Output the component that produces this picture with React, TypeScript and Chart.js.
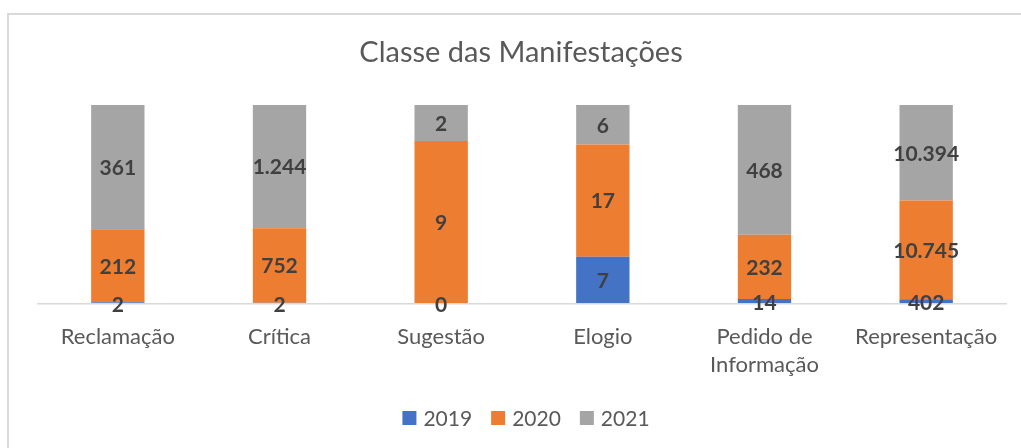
import React, { useEffect, useRef } from "react";
import { Chart, registerables } from "chart.js";

Chart.register(...registerables);

const TITLE = "Classe das Manifestações";
const categories: (string | string[])[] = [
  "Reclamação",
  "Crítica",
  "Sugestão",
  "Elogio",
  ["Pedido de", "Informação"],
  "Representação",
];
const seriesNames = ["2019", "2020", "2021"];
const values2019 = [2, 2, 0, 7, 14, 402];
const values2020 = [212, 752, 9, 17, 232, 10745];
const values2021 = [361, 1244, 2, 6, 468, 10394];
const colors = ["#4472C4", "#ED7D31", "#A5A5A5"];

const FONT = "Lato";
const TEXT = "#595959";

function fmt(n: number): string {
  return String(n).replace(/\B(?=(\d{3})+(?!\d))/g, ".");
}

const rawSeries = [values2019, values2020, values2021];
const totals = categories.map((_, i) => rawSeries.reduce((s, arr) => s + arr[i], 0));
const pctSeries = rawSeries.map((arr) => arr.map((v, i) => (totals[i] ? (v / totals[i]) * 100 : 0)));

const decorPlugin = {
  id: "decor",
  beforeDraw(chart: any) {
    const ctx = chart.ctx;
    ctx.save();
    ctx.fillStyle = "#ffffff";
    ctx.fillRect(0, 0, chart.width, chart.height);
    ctx.strokeStyle = "#d9d9d9";
    ctx.lineWidth = 2;
    ctx.strokeRect(8, 14, 1200, 1000);
    ctx.restore();
  },
  beforeDatasetsDraw(chart: any) {
    const ctx = chart.ctx;
    const { left, right, bottom } = chart.chartArea;
    ctx.save();
    ctx.strokeStyle = "#d9d9d9";
    ctx.lineWidth = 1.5;
    ctx.beginPath();
    ctx.moveTo(left, bottom + 0.75);
    ctx.lineTo(right, bottom + 0.75);
    ctx.stroke();
    ctx.restore();
  },
  afterDatasetsDraw(chart: any) {
    const ctx = chart.ctx;
    ctx.save();
    ctx.font = `bold 21px ${FONT}`;
    ctx.fillStyle = "#404040";
    ctx.textAlign = "center";
    ctx.textBaseline = "middle";
    chart.data.datasets.forEach((ds: any, di: number) => {
      const meta = chart.getDatasetMeta(di);
      meta.data.forEach((el: any, i: number) => {
        const raw = ds.rawValues[i];
        const cy = (el.y + el.base) / 2;
        const h = Math.abs(el.base - el.y);
        ctx.fillText(fmt(raw), el.x, cy + (h < 10 ? 2.5 : 1));
      });
    });
    // title
    ctx.font = `29px ${FONT}`;
    ctx.fillStyle = TEXT;
    ctx.fillText(TITLE, 521, 53);
    // legend
    ctx.font = `21px ${FONT}`;
    const box = 14, gap = 7, spacing = 19;
    const items = chart.data.datasets.map((ds: any) => ({
      label: ds.label,
      color: ds.backgroundColor,
      w: box + gap + ctx.measureText(ds.label).width,
    }));
    const total = items.reduce((s: number, it: any) => s + it.w, 0) + spacing * (items.length - 1);
    let x = 526 - total / 2;
    const ly = 418;
    ctx.textAlign = "left";
    items.forEach((it: any) => {
      ctx.fillStyle = it.color;
      ctx.fillRect(x, ly - box / 2, box, box);
      ctx.fillStyle = TEXT;
      ctx.fillText(it.label, x + box + gap, ly + 1.5);
      x += it.w + spacing;
    });
    ctx.restore();
  },
};

export default function App() {
  const ref = useRef<HTMLCanvasElement | null>(null);
  useEffect(() => {
    if (!ref.current) return;
    const chart = new Chart(ref.current, {
      type: "bar",
      data: {
        labels: categories as any,
        datasets: seriesNames.map((name, k) => ({
          label: name,
          data: pctSeries[k],
          rawValues: rawSeries[k],
          backgroundColor: colors[k],
          borderWidth: 0,
          barPercentage: 0.33,
          categoryPercentage: 1,
        })) as any,
      },
      options: {
        responsive: false,
        animation: false,
        devicePixelRatio: 1,
        layout: { padding: { left: 37, right: 14, top: 105, bottom: 65 } },
        plugins: {
          legend: { display: false },
          title: { display: false },
          tooltip: { enabled: false },
        },
        scales: {
          x: {
            stacked: true,
            grid: { display: false, drawTicks: false },
            border: { display: false },
            ticks: {
              color: TEXT,
              font: { family: FONT, size: 22, lineHeight: 28 / 22 },
              padding: 20,
              maxRotation: 0,
              autoSkip: false,
            },
            afterFit: (scale: any) => {
              scale.height = 80;
            },
          },
          y: {
            stacked: true,
            display: false,
            min: 0,
            max: 100,
          },
        },
      },
      plugins: [decorPlugin],
    });
    return () => chart.destroy();
  }, []);
  return (
    <div style={{ position: "absolute", left: 0, top: 0, width: 1021, height: 448 }}>
      <canvas ref={ref} width={1021} height={448} style={{ display: "block" }} />
    </div>
  );
}
